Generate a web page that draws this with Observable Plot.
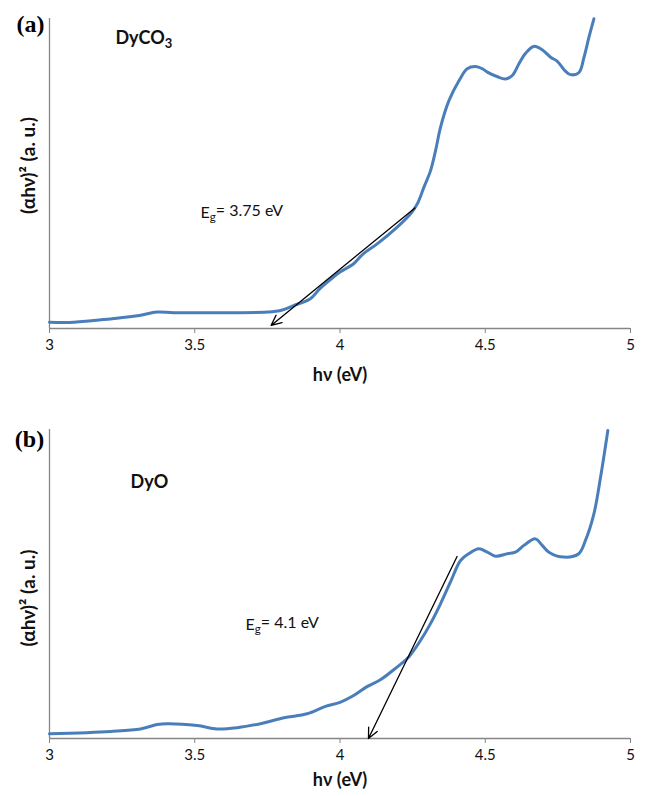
<!DOCTYPE html>
<html><head><meta charset="utf-8">
<script src="https://cdn.jsdelivr.net/npm/d3@7"></script>
<script src="https://cdn.jsdelivr.net/npm/@observablehq/plot@0.6"></script>
<style>body{margin:0;background:#fff;} svg{display:block;}</style>
</head><body><div id="chart"></div>
<script>
const xTicks = [3, 3.5, 4, 4.5, 5];
const xLabel = "hν (eV)";
const yLabel = "(αhν)² (a. u.)";

// Panel (a) DyCO3
const aHv  = [3.0, 3.084, 3.21, 3.31, 3.37, 3.427, 3.61, 3.75, 3.795, 3.84, 3.898, 3.93, 3.967, 4.0, 4.047, 4.08, 4.128, 4.197, 4.243, 4.266, 4.289, 4.312, 4.329, 4.346, 4.375, 4.41, 4.438, 4.467, 4.49, 4.507, 4.54, 4.57, 4.593, 4.616, 4.639, 4.667, 4.696, 4.725, 4.748, 4.776, 4.793, 4.822, 4.84, 4.857, 4.874];
const aVal = [2.0, 2.0, 3.1, 4.2, 5.3, 5.1, 5.1, 5.3, 5.8, 7.4, 9.6, 12.8, 15.8, 18.2, 20.9, 24.1, 27.3, 32.7, 37.0, 40.2, 45.6, 51.0, 57.4, 64.9, 73.5, 80.0, 83.8, 84.5, 83.8, 82.7, 81.3, 80.5, 81.6, 85.4, 88.8, 91.0, 89.9, 87.5, 86.2, 83.0, 81.9, 82.5, 87.5, 94.0, 99.9];
const aTanX = [4.258, 3.763];
const aTanY = [38.9, 1.0];

// Panel (b) DyO
const bHv  = [3.0, 3.21, 3.313, 3.37, 3.405, 3.508, 3.577, 3.646, 3.726, 3.807, 3.887, 3.95, 4.0, 4.047, 4.093, 4.139, 4.196, 4.236, 4.277, 4.311, 4.346, 4.38, 4.415, 4.443, 4.478, 4.507, 4.535, 4.576, 4.604, 4.633, 4.673, 4.696, 4.719, 4.771, 4.822, 4.845, 4.874, 4.897, 4.922];
const bVal = [1.5, 2.3, 3.1, 4.5, 4.8, 4.2, 3.1, 3.5, 4.8, 6.7, 8.0, 10.4, 11.7, 13.9, 16.8, 19.0, 23.1, 26.3, 31.7, 37.1, 43.6, 50.6, 57.6, 59.8, 61.4, 60.3, 59.0, 59.8, 60.3, 62.5, 64.6, 62.5, 60.3, 58.7, 59.8, 64.1, 72.7, 84.6, 99.7];
const bTanX = [4.403, 4.098];
const bTanY = [58.9, 0.0];

const FONT = "Lato, 'Open Sans', sans-serif";
const AXIS = "#868686";
const BLUE = "#4a7ebb";

function panel(o) {
  const data = o.hv.map((x, i) => ({x, y: o.val[i]}));
  const tan = [{x1: o.tanX[0], y1: o.tanY[0], x2: o.tanX[1], y2: o.tanY[1]}];
  const chart = Plot.plot({
    width: 646, height: o.height,
    marginLeft: 49, marginRight: 16, marginTop: o.mt, marginBottom: o.mb,
    style: {fontFamily: FONT, background: "#fff"},
    x: {domain: [3, 5]},
    y: {domain: [0, 100], axis: null},
    marks: [
      Plot.ruleX([3], {stroke: AXIS, strokeWidth: 1.3}),
      Plot.ruleY([0], {stroke: AXIS, strokeWidth: 1.3}),
      Plot.axisX({ticks: xTicks, tickSize: 5, stroke: AXIS, fill: "#111", fontSize: 15, tickPadding: 6, tickFormat: d => String(d), label: null}),
      Plot.line(data, {x: "x", y: "y", stroke: BLUE, strokeWidth: 3, curve: "catmull-rom"}),
      Plot.arrow(tan, {x1: "x1", y1: "y1", x2: "x2", y2: "y2", stroke: "#000", strokeWidth: 1.3, headLength: 13, headAngle: 50}),
      Plot.text([o.compound], {x: o.compX, y: o.compY, text: d => d, textAnchor: "start", lineAnchor: "middle", fontSize: 18, fontWeight: "bold", fill: "#111"}),
      Plot.text([o.eg], {x: o.egX, y: o.egY, text: d => d, textAnchor: "start", lineAnchor: "middle", fontSize: 16, fill: "#111"}),
      Plot.text([yLabel], {frameAnchor: "left", textAnchor: "middle", lineAnchor: "middle", rotate: -90, dx: -21, dy: o.ylabDy, text: d => d, fontSize: 19, fontWeight: "bold", fill: "#111"}),
      Plot.text([xLabel], {frameAnchor: "bottom", textAnchor: "middle", lineAnchor: "middle", dy: o.xlabDy, text: d => d, fontSize: 18, fontWeight: "bold", fill: "#111"}),
      Plot.text([o.tag], {frameAnchor: "top-left", textAnchor: "middle", lineAnchor: "middle", dx: o.tagDx, dy: o.tagDy, text: d => d, fontSize: 24, fontWeight: "bold", fontFamily: "'Liberation Serif', 'Times New Roman', serif", fill: "#000"})
    ]
  });
  // subscripts: "_c" -> subscript tspan
  d3.select(chart).selectAll("text").each(function() {
    const t = this.textContent;
    if (this.querySelector("tspan") || !t.includes("_")) return;
    const sel = d3.select(this);
    sel.text(null);
    const parts = t.split(/_(.)/);
    let afterSub = false;
    parts.forEach((p, i) => {
      if (i % 2 === 1) {
        sel.append("tspan").attr("dy", "0.3em").attr("font-size", "0.72em").text(p);
        afterSub = true;
      } else if (p.length) {
        const ts = sel.append("tspan").text(p);
        if (afterSub) ts.attr("dy", "-0.3em");
        afterSub = false;
      }
    });
  });
  return chart;
}

const root = document.getElementById("chart");
root.appendChild(panel({
  hv: aHv, val: aVal, tanX: aTanX, tanY: aTanY,
  height: 400, mt: 18, mb: 72, xlabDy: 47, ylabDy: -8,
  compound: "DyCO_3", compX: 3.227, compY: 93.5,
  eg: "E_g= 3.75 eV", egX: 3.52, egY: 37.4,
  tag: "(a)", tagDx: -19, tagDy: 6
}));
root.appendChild(panel({
  hv: bHv, val: bVal, tanX: bTanX, tanY: bTanY,
  height: 396, mt: 29, mb: 58, xlabDy: 42, ylabDy: 14,
  compound: "DyO", compX: 3.279, compY: 82.8,
  eg: "E_g= 4.1 eV", egX: 3.675, egY: 36.9,
  tag: "(b)", tagDx: -20, tagDy: 9.5
}));
</script></body></html>
